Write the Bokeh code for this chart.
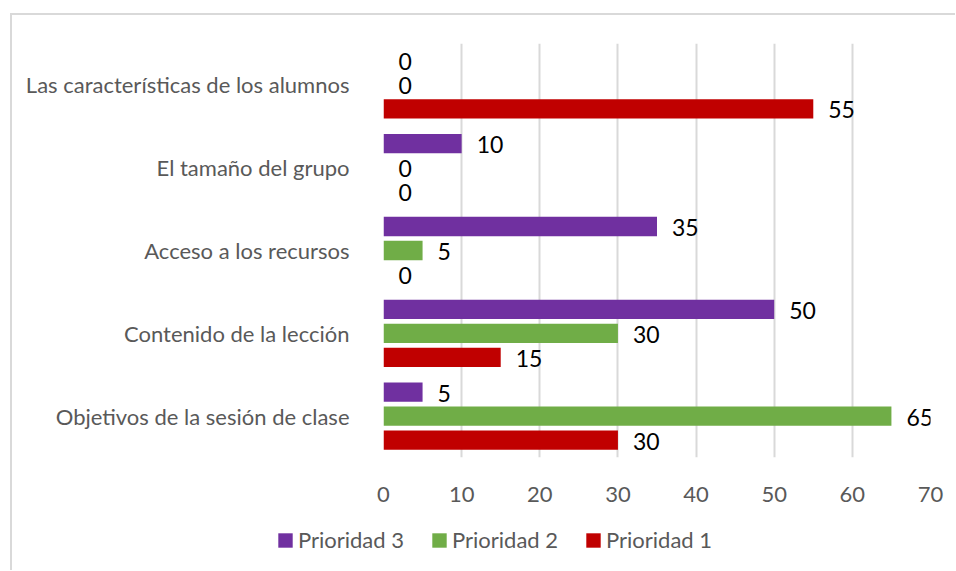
from bokeh.plotting import figure
from bokeh.models import ColumnDataSource, LabelSet, Legend, LegendItem, FactorRange
from bokeh.layouts import column
from bokeh.transform import dodge
from bokeh.core.properties import value
from bokeh.embed import file_html
from bokeh.resources import INLINE

categories = ["Objetivos de la sesión de clase", "Contenido de la lección",
              "Acceso a los recursos", "El tamaño del grupo",
              "Las características de los alumnos"]
prioridad_3 = [5, 50, 35, 10, 0]
prioridad_2 = [65, 30, 5, 0, 0]
prioridad_1 = [30, 15, 0, 0, 55]
series_names = ["Prioridad 3", "Prioridad 2", "Prioridad 1"]
colors = ["#7030A0", "#70AD47", "#C00000"]
x_ticks = [0, 10, 20, 30, 40, 50, 60, 70]

FONT = "Lato"
GRAY = "#595959"
W = 943

p = figure(width=W, height=500, y_range=FactorRange(factors=categories),
           x_range=(0, 70), output_backend="svg", toolbar_location=None,
           min_border_left=371, min_border_right=25, min_border_top=28,
           min_border_bottom=58)
p.outline_line_color = None
p.background_fill_color = "white"
p.border_fill_color = "white"

src = ColumnDataSource(dict(cat=categories, p3=prioridad_3, p2=prioridad_2, p1=prioridad_1,
                            l3=[str(v) for v in prioridad_3],
                            l2=[str(v) for v in prioridad_2],
                            l1=[str(v) for v in prioridad_1]))

offsets = [0.29, 0.0, -0.29]
cols = ["p3", "p2", "p1"]
labs = ["l3", "l2", "l1"]
for name, col, lab, off, c in zip(series_names, cols, labs, offsets, colors):
    p.hbar(y=dodge("cat", off, range=p.y_range), right=col, left=0, height=0.233,
           source=src, fill_color=c, line_color=None)
    ls = LabelSet(x=col, y=dodge("cat", off, range=p.y_range), text=lab, source=src,
                  x_offset=15, y_offset=-1, text_baseline="middle", text_align="left",
                  text_font=value(FONT), text_font_size="23px", text_color="#000000")
    p.add_layout(ls)

p.xgrid.grid_line_color = "#d9d9d9"
p.xgrid.grid_line_width = 2
p.xgrid.ticker = x_ticks
p.ygrid.grid_line_color = None

p.xaxis.ticker = x_ticks
p.xaxis.axis_line_color = None
p.xaxis.major_tick_line_color = None
p.xaxis.minor_tick_line_color = None
p.xaxis.major_label_text_font = FONT
p.xaxis.major_label_text_font_size = "22px"
p.xaxis.major_label_text_color = GRAY
p.xaxis.major_label_standoff = 23

p.yaxis.axis_line_color = None
p.yaxis.major_tick_line_color = None
p.yaxis.minor_tick_line_color = None
p.yaxis.major_label_text_font = FONT
p.yaxis.major_label_text_font_size = "22px"
p.yaxis.major_label_text_color = GRAY
p.yaxis.major_label_standoff = 28

# Legend strip below the chart
lg = figure(width=W, height=55, y_range=FactorRange(factors=categories), x_range=(0, 70),
            output_backend="svg", toolbar_location=None, min_border=0)
lg.frame_align = False
lg.axis.visible = False
lg.grid.visible = False
lg.outline_line_color = None
items = []
for name, col, off, c in zip(series_names, cols, offsets, colors):
    r = lg.hbar(y=dodge("cat", off, range=lg.y_range), right=col, left=0, height=0.233,
                source=src, fill_color=c, line_color=None, visible=False)
    items.append(LegendItem(label=name, renderers=[r]))

legend = Legend(items=items, orientation="horizontal", location=(264, 17),
                glyph_width=18, glyph_height=18, label_standoff=4, spacing=26,
                padding=0, margin=0, border_line_color=None, background_fill_alpha=0,
                inactive_fill_alpha=0,
                label_text_font=FONT, label_text_font_size="22px", label_text_color=GRAY)
lg.add_layout(legend, "center")

layout = column(p, lg, spacing=0,
                styles={"border-left": "2px solid #d9d9d9", "border-top": "2px solid #d9d9d9",
                        "margin-left": "10px", "margin-top": "13px"})

open("out.html", "w").write(file_html(layout, INLINE))
